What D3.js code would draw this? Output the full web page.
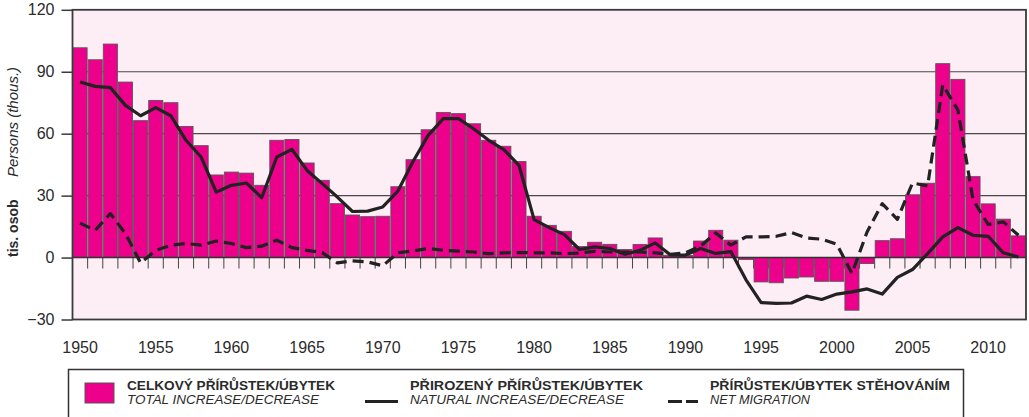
<!DOCTYPE html>
<html>
<head>
<meta charset="utf-8">
<script src="https://cdn.jsdelivr.net/npm/d3@7/dist/d3.min.js"></script>
<style>
  html, body { margin: 0; padding: 0; background: #ffffff; }
  svg { display: block; font-family: "Liberation Sans", Arial, Helvetica, sans-serif; }
</style>
</head>
<body>
<svg id="chart" width="1029" height="417"></svg>
<script>
// ---- data (thousands of persons) ----
const years = [
  1950,1951,1952,1953,1954,1955,1956,1957,1958,1959,
  1960,1961,1962,1963,1964,1965,1966,1967,1968,1969,
  1970,1971,1972,1973,1974,1975,1976,1977,1978,1979,
  1980,1981,1982,1983,1984,1985,1986,1987,1988,1989,
  1990,1991,1992,1993,1994,1995,1996,1997,1998,1999,
  2000,2001,2002,2003,2004,2005,2006,2007,2008,2009,
  2010,2011,2012
];
const totalIncrease = [
  101.6, 95.8, 103.4, 85.0, 66.3, 76.1, 75.0, 63.5, 54.2, 40.0,
  41.4, 40.9, 35.0, 56.8, 57.2, 45.8, 37.4, 26.1, 20.6, 19.8,
  20.0, 34.3, 47.4, 61.9, 70.3, 69.7, 64.8, 56.8, 53.9, 46.5,
  20.0, 15.6, 12.7, 5.3, 7.4, 6.4, 3.9, 6.3, 9.5, 1.1,
  1.0, 8.0, 13.2, 8.4, -0.9, -11.8, -12.2, -9.9, -9.4, -11.5,
  -11.5, -25.5, -2.9, 8.2, 9.1, 30.4, 36.0, 93.9, 86.3, 39.2,
  26.0, 18.6, 10.5
];
const naturalIncrease = [
  85.0, 82.9, 82.3, 73.7, 68.7, 72.6, 68.7, 56.8, 48.7, 31.7,
  35.0, 36.1, 29.0, 48.7, 52.4, 42.2, 35.8, 29.3, 22.3, 22.5,
  24.5, 32.2, 46.5, 59.2, 67.3, 67.3, 62.4, 56.8, 52.3, 44.7,
  18.4, 14.5, 11.1, 3.9, 5.2, 4.4, 1.6, 3.5, 7.1, 1.3,
  1.2, 4.4, 2.0, 2.9, -10.8, -21.8, -22.2, -22.0, -18.7, -20.3,
  -17.7, -16.6, -15.2, -17.7, -9.6, -5.8, 1.9, 10.0, 14.5, 10.8,
  10.3, 2.3, 0.3
];
const netMigration = [
  16.7, 13.2, 21.3, 11.6, -2.6, 3.5, 6.0, 6.8, 6.0, 8.0,
  6.8, 4.8, 5.5, 8.4, 4.8, 3.5, 2.4, -2.6, -1.6, -2.1,
  -4.0, 2.3, 3.2, 4.4, 3.5, 3.1, 2.7, 1.9, 2.3, 2.4,
  2.3, 2.3, 1.9, 2.2, 3.0, 2.7, 2.7, 2.7, 2.3, 1.5,
  2.3, 5.5, 11.9, 6.0, 10.0, 10.0, 10.3, 12.1, 9.5, 8.9,
  6.5, -7.7, 12.4, 26.1, 18.5, 36.1, 34.7, 83.6, 71.5, 28.0,
  16.0, 17.3, 10.8
];
const xTickLabels = ["1950","1955","1960","1965","1970","1975","1980","1985","1990","1995","2000","2005","2010"];
const yTicks = [-30, 0, 30, 60, 90, 120];
const yTitleCz = "tis. osob";
const yTitleEn = "Persons (thous.)";
const legendCz = ["CELKOVÝ PŘÍRŮSTEK/ÚBYTEK", "PŘIROZENÝ PŘÍRŮSTEK/ÚBYTEK", "PŘÍRŮSTEK/ÚBYTEK STĚHOVÁNÍM"];
const legendEn = ["TOTAL INCREASE/DECREASE", "NATURAL INCREASE/DECREASE", "NET MIGRATION"];

// ---- layout ----
const plot = { left: 72.5, right: 1026, top: 9.8, bottom: 319.5 };
const COL_BAR = "#ec008c";
const COL_BG = "#fdedf4";
const COL_AXIS = "#3a3a3a";
const COL_TEXT = "#2b2b2b";

const svg = d3.select("#chart");

const x = d3.scaleBand()
  .domain(years)
  .range([plot.left, plot.right])
  .paddingInner(0.07)
  .paddingOuter(0.035);
const y = d3.scaleLinear().domain([-30, 120]).range([plot.bottom, plot.top]);
const cx = yr => x(yr) + x.bandwidth() / 2;

// background
svg.append("rect")
  .attr("x", plot.left).attr("y", plot.top)
  .attr("width", plot.right - plot.left).attr("height", plot.bottom - plot.top)
  .attr("fill", COL_BG);

// gridlines
svg.append("g").selectAll("line")
  .data(yTicks.filter(t => t !== 0 && t !== -30 && t !== 120))
  .join("line")
  .attr("x1", plot.left).attr("x2", plot.right)
  .attr("y1", d => y(d)).attr("y2", d => y(d))
  .attr("stroke", "#4a4a4a").attr("stroke-width", 1.2);

// small ticks below zero line, between bars
const y0 = y(0);
svg.append("g").selectAll("line")
  .data(years.slice(0, -1))
  .join("line")
  .attr("x1", d => x(d) + x.step() - (x.step() - x.bandwidth()) / 2)
  .attr("x2", d => x(d) + x.step() - (x.step() - x.bandwidth()) / 2)
  .attr("y1", y0).attr("y2", y0 + 11)
  .attr("stroke", "#444").attr("stroke-width", 1);

// bars
svg.append("g").selectAll("rect")
  .data(years.map((yr, i) => ({ yr, v: totalIncrease[i] })))
  .join("rect")
  .attr("x", d => x(d.yr))
  .attr("width", x.bandwidth())
  .attr("y", d => y(Math.max(0, d.v)))
  .attr("height", d => Math.abs(y(d.v) - y(0)))
  .attr("fill", COL_BAR)
  .attr("stroke", "#5e5358").attr("stroke-width", 0.9);

// zero line
svg.append("line")
  .attr("x1", plot.left).attr("x2", plot.right)
  .attr("y1", y0).attr("y2", y0)
  .attr("stroke", "#333").attr("stroke-width", 1.5);

// lines
const lineGen = d3.line().x(d => cx(d.yr)).y(d => y(d.v));
svg.append("path")
  .datum(years.map((yr, i) => ({ yr, v: netMigration[i] })))
  .attr("d", lineGen)
  .attr("fill", "none").attr("stroke", "#222").attr("stroke-width", 3.2)
  .attr("stroke-dasharray", "11,6").attr("stroke-linejoin", "round");
svg.append("path")
  .datum(years.map((yr, i) => ({ yr, v: naturalIncrease[i] })))
  .attr("d", lineGen)
  .attr("fill", "none").attr("stroke", "#222").attr("stroke-width", 3.2)
  .attr("stroke-linejoin", "round");

// frame
svg.append("rect")
  .attr("x", plot.left).attr("y", plot.top)
  .attr("width", plot.right - plot.left).attr("height", plot.bottom - plot.top)
  .attr("fill", "none").attr("stroke", COL_AXIS).attr("stroke-width", 1.8);

// y axis ticks + labels
const yAxis = d3.axisLeft(y).tickValues(yTicks).tickSize(11).tickPadding(7).tickFormat(d3.format("d"));
const gy = svg.append("g").attr("transform", `translate(${plot.left},0)`).call(yAxis);
gy.select(".domain").remove();
gy.selectAll(".tick line").attr("stroke", COL_AXIS).attr("stroke-width", 1.5);
gy.selectAll(".tick text")
  .attr("fill", COL_TEXT).style("font-size", "16px")
  .style("font-family", "'Liberation Sans', Arial, sans-serif");

// x labels (under bar centers)
const gx = svg.append("g");
gx.selectAll("text")
  .data(xTickLabels)
  .join("text")
  .attr("x", d => cx(+d))
  .attr("y", 352.5)
  .attr("text-anchor", "middle")
  .attr("fill", COL_TEXT)
  .style("font-size", "16px")
  .text(d => d);

// y titles (rotated)
svg.append("text")
  .attr("transform", "translate(17.5,257) rotate(-90)")
  .attr("text-anchor", "start")
  .attr("fill", COL_TEXT)
  .style("font-size", "14px").style("font-weight", "bold")
  .text(yTitleCz);
svg.append("text")
  .attr("transform", "translate(17.5,177) rotate(-90)")
  .attr("text-anchor", "start")
  .attr("fill", COL_TEXT)
  .style("font-size", "15px").style("font-style", "italic")
  .text(yTitleEn);

// legend
const lg = svg.append("g");
lg.append("rect")
  .attr("x", 68.5).attr("y", 369.5).attr("width", 895).attr("height", 70)
  .attr("fill", "#fff").attr("stroke", "#333").attr("stroke-width", 1.5);
lg.append("rect")
  .attr("x", 85).attr("y", 383).attr("width", 29).attr("height", 20)
  .attr("fill", COL_BAR).attr("stroke", "#5e5358").attr("stroke-width", 1);
lg.append("line")
  .attr("x1", 365).attr("x2", 398).attr("y1", 401.5).attr("y2", 401.5)
  .attr("stroke", "#222").attr("stroke-width", 3.2);
lg.append("line")
  .attr("x1", 668).attr("x2", 698).attr("y1", 401.5).attr("y2", 401.5)
  .attr("stroke", "#222").attr("stroke-width", 3.2).attr("stroke-dasharray", "14,4");
const legX = [127, 410, 710];
const legWCz = [208, 233, 240];
const legWEn = [192, 214, 100];
legX.forEach((lx, i) => {
  lg.append("text").attr("x", lx).attr("y", 389.5)
    .attr("fill", COL_TEXT).style("font-size", "12.4px").style("font-weight", "bold")
    .attr("textLength", legWCz[i]).attr("lengthAdjust", "spacingAndGlyphs")
    .text(legendCz[i]);
  lg.append("text").attr("x", lx).attr("y", 403.5)
    .attr("fill", COL_TEXT).style("font-size", "12.4px").style("font-style", "italic")
    .attr("textLength", legWEn[i]).attr("lengthAdjust", "spacingAndGlyphs")
    .text(legendEn[i]);
});
</script>
</body>
</html>
